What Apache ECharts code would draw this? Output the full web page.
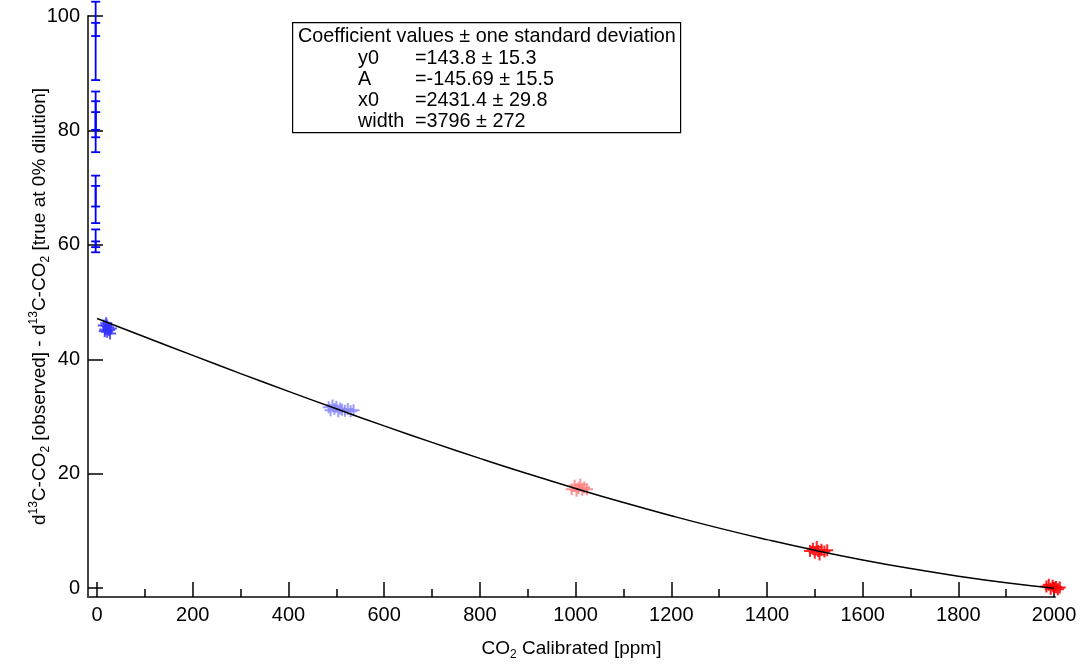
<!DOCTYPE html>
<html><head><meta charset="utf-8">
<script src="https://cdn.jsdelivr.net/npm/echarts@6/dist/echarts.min.js"></script>
<style>html,body{margin:0;padding:0;background:#fff}#c{width:1080px;height:666px}</style>
</head><body><div id="c"></div>
<script>
// ---- data ----
const xTicks = [0,200,400,600,800,1000,1200,1400,1600,1800,2000];
const xMinorTicks = [100,300,500,700,900,1100,1300,1500,1700,1900];
const yTicks = [0,20,40,60,80,100];
const errX = [-3,-3,-3,-3,-3,-3,-3,-3,-3];
const errLow  = [88.8, 96.5, 76.2, 78.8, 80.1, 63.8, 66.7, 58.7, 59.6];
const errHigh = [98.8, 102.5, 85.1, 86.8, 83.2, 70.3, 72.1, 60.6, 62.7];
const clusterA = [[14,45.9],[17,45.2],[19,46.3],[21,44.8],[23,45.6],[25,45.1],[27,44.5],[20,45.9],[29,45.4],[16,44.9]];
const clusterB = [[484,31.6],[488,31.1],[492,31.9],[496,31.3],[500,31.7],[504,30.9],[508,31.4],[512,31.2],[518,31.0],[524,31.3],[530,30.9],[536,31.1]];
const clusterC = [[992,17.3],[998,17.9],[1002,17.0],[1006,17.5],[1010,18.1],[1014,17.2],[1018,17.6],[1024,17.3]];
const clusterD = [[1490,6.5],[1496,6.9],[1500,6.2],[1504,7.2],[1507,6.5],[1510,5.9],[1514,6.7],[1520,6.4],[1526,6.6]];
const clusterE = [[1984,0.3],[1989,0.6],[1993,-0.1],[1997,0.4],[2000,0.0],[2004,0.2],[2008,-0.2],[2012,0.1]];
const fitX = [0,100,200,300,400,500,600,700,800,900,1000,1100,1200,1300,1400,1500,1600,1700,1800,1900,2000];
const fitY = [47.14,43.89,40.68,37.50,34.39,31.34,28.36,25.47,22.68,19.99,17.42,14.97,12.66,10.49,8.48,6.62,4.93,3.42,2.09,0.94,-0.02];
const boxTitle = 'Coefficient values ± one standard deviation';
const coefNames = ['y0','A','x0','width'];
const coefValues = ['=143.8 ± 15.3','=-145.69 ± 15.5','=2431.4 ± 29.8','=3796 ± 272'];

// ---- chart ----
const FONT = '"Liberation Sans", Arial, Helvetica, sans-serif';
const FS = 20;
const BFS = 19.8;
const chart = echarts.init(document.getElementById('c'), null, {renderer:'canvas'});
const plus = 'path://M5,0L7,0L7,5L12,5L12,7L7,7L7,12L5,12L5,7L0,7L0,5L5,5Z';
const xMin = -19, xMax = 2002, yMin = -1.55, yMax = 100;

function clusterSeries(data, color, op){
  return {type:'scatter', data:data, symbol:plus, symbolSize:12, clip:false,
    itemStyle:{color:color, opacity:op}, z:3, silent:true};
}

const errData = errX.map((x,i)=>[x, errLow[i], errHigh[i]]);

const boxGraphics = [
  {type:'rect', left:292, top:22, shape:{width:388, height:110}, style:{fill:'#fff', stroke:'#000', lineWidth:1.2}, z:10},
  {type:'text', left:298, top:27, style:{text:boxTitle, font:BFS+'px '+FONT, fill:'#000'}, z:11}
];
coefNames.forEach((n,i)=>{
  boxGraphics.push({type:'text', left:358, top:49+i*20.8, style:{text:n, font:BFS+'px '+FONT, fill:'#000'}, z:11});
  boxGraphics.push({type:'text', left:415, top:49+i*20.8, style:{text:coefValues[i], font:BFS+'px '+FONT, fill:'#000'}, z:11});
});

const axisLineStyle = {color:'#444', width:2};
const option = {
  animation:false,
  backgroundColor:'#fff',
  textStyle:{fontFamily:FONT},
  grid:{left:88, right:25, top:16, bottom:64, containLabel:false},
  xAxis:[{
    type:'value', min:xMin, max:xMax, position:'bottom',
    axisLine:{show:true, onZero:false, lineStyle:axisLineStyle},
    axisTick:{show:true, inside:true, length:15, lineStyle:{color:'#000', width:1.5}, customValues:xTicks},
    axisLabel:{show:true, color:'#000', fontSize:FS, fontFamily:FONT, margin:8, customValues:xTicks,
      formatter:function(v){return String(v);}},
    splitLine:{show:false},
    name:'{a|CO}{sub|2}{a| Calibrated [ppm]}', nameLocation:'middle', nameGap:40, nameMoveOverlap:false,
    nameTextStyle:{color:'#000', fontFamily:FONT, rich:{
      a:{fontSize:19, fontFamily:FONT, color:'#000', lineHeight:24},
      sub:{fontSize:12, fontFamily:FONT, color:'#000', lineHeight:12, verticalAlign:'bottom'}}}
  },{
    type:'value', min:xMin, max:xMax, position:'bottom',
    axisLine:{show:false, onZero:false},
    axisTick:{show:true, inside:true, length:8, lineStyle:{color:'#000', width:1.5}, customValues:xMinorTicks},
    axisLabel:{show:false}, splitLine:{show:false}
  }],
  yAxis:{
    type:'value', min:yMin, max:yMax,
    axisLine:{show:true, onZero:false, lineStyle:axisLineStyle},
    axisTick:{show:true, inside:true, length:15, lineStyle:{color:'#000', width:1.5}, customValues:yTicks},
    axisLabel:{show:true, color:'#000', fontSize:FS, fontFamily:FONT, margin:8, customValues:yTicks},
    splitLine:{show:false},
    name:'{a|d}{sup|13}{a|C-CO}{sub|2}{a| [observed] - d}{sup|13}{a|C-CO}{sub|2}{a| [true at 0% dilution]}',
    nameLocation:'middle', nameGap:36, nameRotate:90, nameMoveOverlap:false,
    nameTextStyle:{color:'#000', fontFamily:FONT, rich:{
      a:{fontSize:19, fontFamily:FONT, color:'#000', lineHeight:24},
      sup:{fontSize:12, fontFamily:FONT, color:'#000', lineHeight:12, verticalAlign:'top'},
      sub:{fontSize:12, fontFamily:FONT, color:'#000', lineHeight:12, verticalAlign:'bottom'}}}
  },
  series:[
    {type:'custom', data:errData, clip:false, z:4, silent:true,
     renderItem:function(params, api){
       const x = api.value(0);
       const p1 = api.coord([x, api.value(1)]);
       const p2 = api.coord([x, api.value(2)]);
       const w = 4.5;
       const st = {stroke:'#0000ff', lineWidth:1.8};
       return {type:'group', children:[
         {type:'line', shape:{x1:p1[0], y1:p1[1], x2:p2[0], y2:p2[1]}, style:st},
         {type:'line', shape:{x1:p1[0]-w, y1:p1[1], x2:p1[0]+w, y2:p1[1]}, style:st},
         {type:'line', shape:{x1:p2[0]-w, y1:p2[1], x2:p2[0]+w, y2:p2[1]}, style:st}
       ]};
     }},
    clusterSeries(clusterA, '#2f2fff', 0.8),
    clusterSeries(clusterB, '#8a8aff', 0.85),
    clusterSeries(clusterC, '#ff8080', 0.85),
    clusterSeries(clusterD, '#ff1010', 0.9),
    clusterSeries(clusterE, '#ff0000', 0.9),
    {type:'line', data:fitX.map((x,i)=>[x, fitY[i]]), smooth:true, showSymbol:false, z:6, silent:true,
     lineStyle:{color:'#000', width:1.5}, clip:false}
  ],
  graphic: boxGraphics
};
chart.setOption(option);
</script>
</body></html>
